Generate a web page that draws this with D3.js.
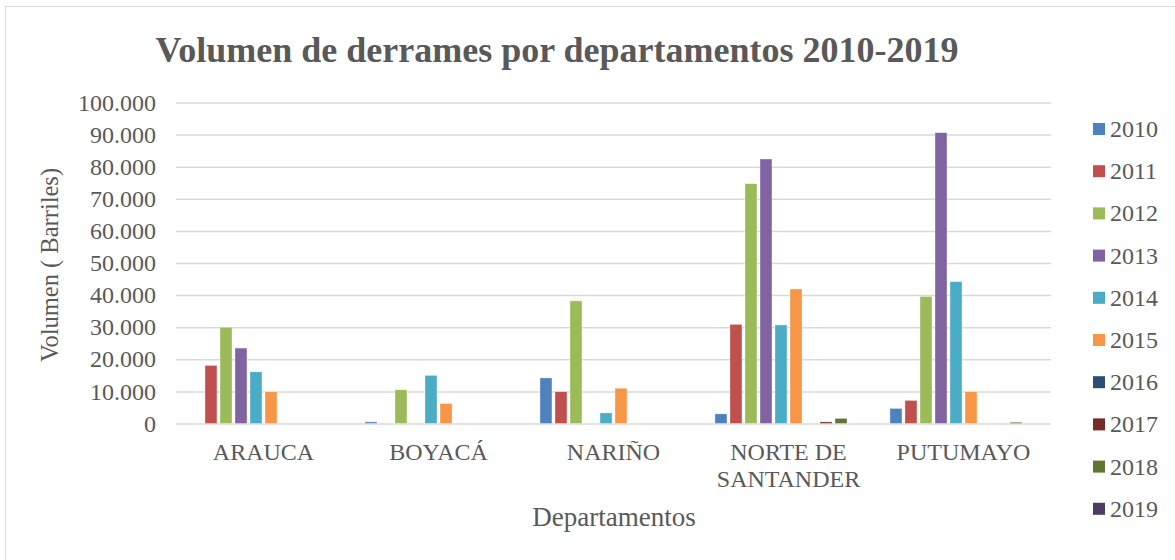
<!DOCTYPE html>
<html>
<head>
<meta charset="utf-8">
<script src="https://cdn.jsdelivr.net/npm/d3@7"></script>
<style>
  body { margin: 0; background: #fff; }
  svg { display: block; font-family: "Liberation Serif", "Times New Roman", serif; }
</style>
</head>
<body>
<svg id="chart" width="1175" height="560"></svg>
<script>
// departments on the x axis
var categories = ["ARAUCA", "BOYACÁ", "NARIÑO", "NORTE DE SANTANDER", "PUTUMAYO"];
var years = ["2010", "2011", "2012", "2013", "2014", "2015", "2016", "2017", "2018", "2019"];

// spilled volume (barrels) per year, one value per department
var values2010 = [0, 500, 14200, 3000, 4700];
var values2011 = [18100, 0, 9900, 30900, 7200];
var values2012 = [30000, 10500, 38200, 74700, 39600];
var values2013 = [23500, 0, 0, 82400, 90600];
var values2014 = [16100, 15000, 3300, 30700, 44200];
var values2015 = [9900, 6200, 11000, 41900, 9900];
var values2016 = [0, 0, 0, 0, 0];
var values2017 = [0, 0, 0, 500, 0];
var values2018 = [0, 0, 0, 1600, 400];
var values2019 = [0, 0, 0, 0, 0];

var yTicks = [0, 10000, 20000, 30000, 40000, 50000, 60000, 70000, 80000, 90000, 100000];

var series = [values2010, values2011, values2012, values2013, values2014,
  values2015, values2016, values2017, values2018, values2019];

var colors = ["#4f81bd", "#c0504d", "#9bbb59", "#8064a2", "#4bacc6",
  "#f79646", "#2c4d75", "#772c2a", "#5f7530", "#4d3b62"];

var textColor = "#595959";
var svg = d3.select("#chart");

// outer chart frame (only top/left edges show in the reference)
svg.append("rect")
  .attr("x", 5.5).attr("y", 6.5)
  .attr("width", 1200).attr("height", 600)
  .attr("fill", "none")
  .attr("stroke", "#d9d9d9");

var plot = { left: 176, right: 1051, top: 102.5, bottom: 423.5 };

var x0 = d3.scaleBand().domain(categories).range([plot.left, plot.right]);
var x1 = d3.scaleBand().domain(years).range([0, x0.bandwidth()])
  .paddingInner(0.2).paddingOuter(0.93);
var y = d3.scaleLinear().domain([0, 100000]).range([plot.bottom, plot.top]);

// Spanish number format: 10.000
var fmt = d3.formatLocale({ decimal: ",", thousands: ".", grouping: [3], currency: ["$", ""] }).format(",.0f");

// gridlines + tick labels
var yAxis = d3.axisLeft(y).tickValues(yTicks).tickFormat(fmt)
  .tickSize(-(plot.right - plot.left)).tickPadding(20);

var gy = svg.append("g")
  .attr("transform", "translate(" + plot.left + ",0)")
  .call(yAxis);
gy.select(".domain").remove();
gy.selectAll(".tick line").attr("stroke", "#d9d9d9").attr("stroke-width", 1.5);
gy.selectAll(".tick text")
  .attr("fill", textColor)
  .style("font-size", "24px")
  .style("font-family", "Liberation Serif, Times New Roman, serif");

// bars, grouped by department
var groups = svg.append("g").selectAll("g")
  .data(categories)
  .join("g")
  .attr("transform", function (d) { return "translate(" + x0(d) + ",0)"; });

groups.selectAll("rect")
  .data(function (d, i) {
    return years.map(function (yr, j) { return { year: yr, value: series[j][i], color: colors[j] }; });
  })
  .join("rect")
  .attr("x", function (d) { return x1(d.year); })
  .attr("width", x1.bandwidth())
  .attr("y", function (d) { return y(d.value); })
  .attr("height", function (d) { return y(0) - y(d.value); })
  .attr("fill", function (d) { return d.color; })
  .attr("stroke", "#fff")
  .attr("stroke-width", 0.6)
  .attr("stroke-opacity", 0.6);

// category labels, NORTE DE SANTANDER wraps on two lines
var xLabels = svg.append("g").selectAll("text")
  .data(categories)
  .join("text")
  .attr("x", function (d) { return x0(d) + x0.bandwidth() / 2; })
  .attr("y", 460)
  .attr("text-anchor", "middle")
  .attr("fill", textColor)
  .style("font-size", "24px");

xLabels.each(function (d) {
  var lines = d === "NORTE DE SANTANDER" ? ["NORTE DE", "SANTANDER"] : [d];
  var t = d3.select(this);
  lines.forEach(function (ln, k) {
    t.append("tspan")
      .attr("x", x0(d) + x0.bandwidth() / 2)
      .attr("dy", k === 0 ? 0 : 27)
      .text(ln);
  });
});

// axis titles
svg.append("text")
  .attr("x", 614)
  .attr("y", 526)
  .attr("text-anchor", "middle")
  .attr("fill", textColor)
  .style("font-size", "27px")
  .text("Departamentos");

svg.append("text")
  .attr("transform", "translate(58,265) rotate(-90)")
  .attr("text-anchor", "middle")
  .attr("fill", textColor)
  .style("font-size", "24.5px")
  .text("Volumen ( Barriles)");

// chart title
svg.append("text")
  .attr("x", 557)
  .attr("y", 62)
  .attr("text-anchor", "middle")
  .attr("fill", textColor)
  .style("font-size", "36px")
  .style("font-weight", "bold")
  .text("Volumen de derrames por departamentos 2010-2019");

// legend on the right
var legend = svg.append("g").selectAll("g")
  .data(years)
  .join("g")
  .attr("transform", function (d, i) { return "translate(1093," + (129 + i * 42.2) + ")"; });

legend.append("rect")
  .attr("x", 0).attr("y", -6)
  .attr("width", 12).attr("height", 12)
  .attr("fill", function (d, i) { return colors[i]; });

legend.append("text")
  .attr("x", 17)
  .attr("y", 8)
  .attr("fill", textColor)
  .style("font-size", "24px")
  .text(function (d) { return d; });
</script>
</body>
</html>
